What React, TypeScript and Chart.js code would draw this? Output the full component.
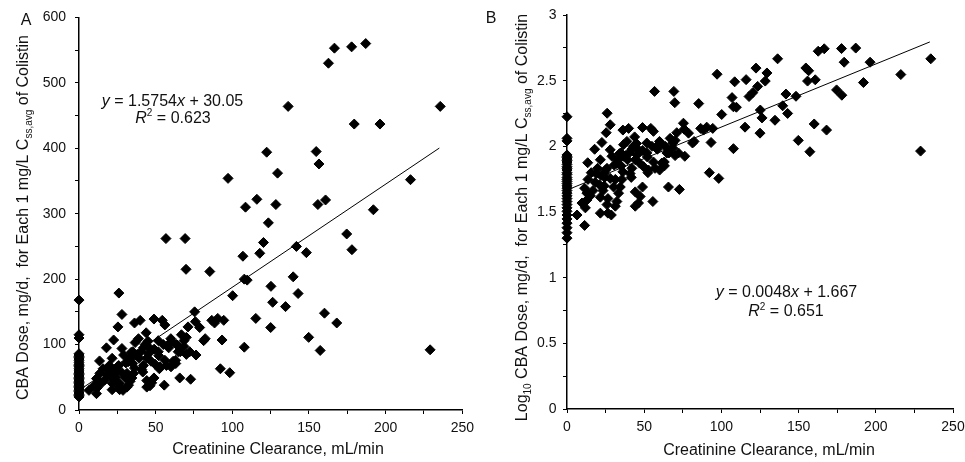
import { useEffect, useRef } from 'react';
import { Chart, registerables } from 'chart.js';

Chart.register(...registerables);

// ---- data ----
// creatinine clearance (mL/min) and CBA dose (mg/d) for each 1 mg/L Css,avg
const clearance = [
  0, 0, 0, 0, 0, 0, 0, 0, 0, 0, 0, 0, 0, 0, 0, 0, 0, 0, 0, 0, 0, 0, 0, 0, 0, 0, 0, 0, 0, 0, 0, 0, 0, 0, 0,
  6.5, 11.4, 13.4, 11.4, 12.9, 9.7, 11.9, 12.9, 15.1, 16.8, 18.3, 17.9, 19.8, 18.8, 21.6, 22.6, 25.4, 28,
  21.6, 21.6, 24.1, 24.1, 25.9, 25.9, 26.5, 28, 29.1, 30.2, 31.3, 30.6, 32.3, 31.3, 32.3, 33.4, 34.5, 35.6,
  36.2, 36.6, 36.2, 39.9, 36.6, 38.8, 39.2, 40.3, 40.9, 42, 43.1, 43.8, 44.2, 45.3, 46.3, 44.2, 44.2, 46.3,
  47.4, 48.9, 48.9, 47, 49.6, 51.7, 51.7, 52.8, 54.3, 56, 55.6, 55, 58.2, 59.9, 61.4, 63.1, 63.6, 64.7,
  65.7, 66.8, 68.5, 71.1, 72.2, 72.8, 75.4, 75.9, 76.3, 78.7, 81.3, 82.3, 86.6, 88.4, 90.5, 92.2, 93.3,
  94.4, 98.3, 107.8, 115.3, 125, 149.8, 157.3, 160.1, 168.1, 229,
  34, 35, 41.6, 28.7, 21, 24.4, 15.7, 13.6, 23.3, 26.5, 52, 56, 63, 60, 52.4, 68.5, 70,
  22, 25, 28, 33, 35, 38, 42, 45, 49, 57, 58.5, 60.5, 66, 70,
  187, 177.8, 166.6, 162.7, 136.4, 235.6, 179.5, 196.3, 122.4, 154.7, 156.5, 129.5, 97.2, 216.2, 116,
  160.8, 108.6, 128.4, 155.8, 192, 123.5, 56.7, 69.2, 120.3, 174.6, 141.8, 106.9, 117.9, 148.3, 178,
  69.8, 85.3, 107.8, 109.7, 139.7, 125.2, 142.9, 100.2, 26, 126.3, 134.7,
];
const dose = [
  168, 115, 110, 86, 84, 82, 80, 78, 76, 73, 70, 68, 66, 63, 61, 58, 56, 54, 52, 50, 48, 46, 44, 42, 40,
  38, 36, 34, 32, 30, 28, 26, 24, 22, 20,
  30, 25, 75, 48, 44, 37, 34, 39, 42, 46, 53, 95, 68, 62, 79, 107, 127, 146,
  41, 31, 50, 62, 68, 36, 31, 94, 84, 49, 56, 72, 74, 35, 38, 44, 49, 56,
  64, 84, 133, 137, 103, 109, 79, 89, 62, 68, 100, 118, 79, 86, 94, 45, 35, 37,
  41.5, 49, 139, 74.5, 70, 89, 106, 66, 137, 130, 38, 100, 100, 109, 74.5, 71, 100, 89,
  49, 115, 97, 127, 89, 47, 150, 135, 84, 126, 106, 109, 137, 133, 140, 63, 107,
  137, 57, 96, 140, 126, 111, 91, 148, 133, 92,
  88, 71, 58, 30, 51, 58, 63, 56, 46, 40, 83, 76, 76, 66, 63, 106, 111,
  60, 66, 57, 79, 89, 85, 95, 105, 93, 68, 95, 105, 89, 85,
  560, 555, 553, 530, 464, 464, 437, 437, 394, 395, 376, 362, 354, 352, 322,
  321, 310, 314, 314, 306, 286, 262, 262, 256, 269, 250, 235, 239.5, 240.5, 245,
  215, 211.6, 200, 198.5, 203.5, 189, 178, 174.7, 178.7, 164.6, 158,
];
// panel B plots log10 of the same doses
const logDose = dose.map((v) => Math.log10(v));

const trendX = [0, 235];
const trendA = [30.05, 400.3];
const trendB = [1.667, 2.795];

const xTicksMajor = 50;
const xTicksMinor = 25;

// ---- text helpers ----
const FAMILY = '"Liberation Sans", Arial, Helvetica, sans-serif';
const TEXT = '#111';
type Seg = { t: string; s?: 'i' | 'sub' | 'sup' };
type Rich = { segs: Seg[]; x: number; y: number; rot?: boolean; size?: number };

function fontFor(seg: Seg, size: number) {
  const small = seg.s === 'sub' || seg.s === 'sup';
  return `${seg.s === 'i' ? 'italic ' : ''}${small ? Math.round(size * 0.65) : size}px ${FAMILY}`;
}

function drawRich(ctx: CanvasRenderingContext2D, item: Rich) {
  const size = item.size ?? 16;
  ctx.save();
  ctx.fillStyle = TEXT;
  ctx.textBaseline = 'alphabetic';
  ctx.textAlign = 'left';
  let total = 0;
  for (const seg of item.segs) {
    ctx.font = fontFor(seg, size);
    total += ctx.measureText(seg.t).width;
  }
  ctx.translate(item.x, item.y);
  if (item.rot) ctx.rotate(-Math.PI / 2);
  let cx = -total / 2;
  for (const seg of item.segs) {
    ctx.font = fontFor(seg, size);
    const dy = seg.s === 'sub' ? size * 0.28 : seg.s === 'sup' ? -size * 0.4 : 0;
    ctx.fillText(seg.t, cx, dy);
    cx += ctx.measureText(seg.t).width;
  }
  ctx.restore();
}

const titleCore: Seg[] = [
  { t: 'CBA Dose, mg/d,  for Each 1 mg/L C' },
  { t: 'ss,avg', s: 'sub' },
  { t: ' of Colistin' },
];
const xTitle: Seg[] = [{ t: 'Creatinine Clearance, mL/min' }];

const textsA: Rich[] = [
  { segs: titleCore, x: 27.5, y: 217.5, rot: true },
  { segs: [{ t: 'A' }], x: 26, y: 25 },
  { segs: [{ t: 'y', s: 'i' }, { t: ' = 1.5754' }, { t: 'x', s: 'i' }, { t: ' + 30.05' }], x: 172.5, y: 106 },
  { segs: [{ t: 'R', s: 'i' }, { t: '2', s: 'sup' }, { t: ' = 0.623' }], x: 173, y: 122.5 },
  { segs: xTitle, x: 278, y: 454 },
];
const textsB: Rich[] = [
  { segs: [{ t: 'Log' }, { t: '10', s: 'sub' }, { t: ' ' }, ...titleCore], x: 47, y: 217.5, rot: true },
  { segs: [{ t: 'B' }], x: 11, y: 23 },
  { segs: [{ t: 'y', s: 'i' }, { t: ' = 0.0048' }, { t: 'x', s: 'i' }, { t: ' + 1.667' }], x: 306.5, y: 297 },
  { segs: [{ t: 'R', s: 'i' }, { t: '2', s: 'sup' }, { t: ' = 0.651' }], x: 306, y: 316 },
  { segs: xTitle, x: 289, y: 455 },
];

type PanelCfg = {
  ys: number[];
  trend: number[];
  yMax: number;
  yStep: number;
  yLabel: (v: number) => string;
  yWidth: number;
  yPad: number;
  xHeight: number;
  padRight: number;
  texts: Rich[];
};

function makeChart(canvas: HTMLCanvasElement, cfg: PanelCfg) {
  const pts = clearance.map((x, i) => ({ x, y: cfg.ys[i] }));
  const line = trendX.map((x, i) => ({ x, y: cfg.trend[i] }));
  const axisCommon = {
    border: { display: true, color: '#000', width: 1.5 },
    grid: { display: true, drawOnChartArea: false, drawTicks: true, tickLength: 4, color: '#000', tickColor: '#000', tickWidth: 1 },
  };
  return new Chart(canvas, {
    type: 'scatter',
    data: {
      datasets: [
        {
          data: line,
          showLine: true,
          borderColor: '#000',
          borderWidth: 1,
          pointRadius: 0,
          fill: false,
        },
        {
          data: pts,
          pointStyle: 'rectRot',
          pointRadius: 5,
          backgroundColor: '#000',
          borderColor: '#000',
          borderWidth: 1,
          clip: false,
        } as any,
      ],
    },
    options: {
      animation: false,
      responsive: false,
      devicePixelRatio: 1,
      events: [],
      layout: { padding: { left: 0, top: 15, right: cfg.padRight, bottom: 0 } },
      plugins: { legend: { display: false }, tooltip: { enabled: false }, title: { display: false } },
      scales: {
        x: {
          type: 'linear',
          min: 0,
          max: 250,
          ...axisCommon,
          ticks: {
            stepSize: xTicksMinor,
            autoSkip: false,
            maxRotation: 0,
            padding: 6,
            color: TEXT,
            font: { family: FAMILY, size: 14 },
            callback: (v: any) => (Number(v) % xTicksMajor === 0 ? String(v) : ''),
          },
          afterFit: (s: any) => {
            s.height = cfg.xHeight;
          },
        },
        y: {
          type: 'linear',
          min: 0,
          max: cfg.yMax,
          ...axisCommon,
          ticks: {
            stepSize: cfg.yStep,
            autoSkip: false,
            padding: cfg.yPad,
            color: TEXT,
            font: { family: FAMILY, size: 14 },
            callback: (v: any) => cfg.yLabel(Number(v)),
          },
          afterFit: (s: any) => {
            s.width = cfg.yWidth;
          },
        },
      },
    },
    plugins: [
      {
        id: 'richTexts',
        afterDraw(chart: any) {
          const ctx = chart.ctx as CanvasRenderingContext2D;
          for (const t of cfg.texts) drawRich(ctx, t);
        },
      },
    ],
  } as any);
}

export default function App() {
  const refA = useRef<HTMLCanvasElement>(null);
  const refB = useRef<HTMLCanvasElement>(null);

  useEffect(() => {
    if (!refA.current || !refB.current) return;
    const a = makeChart(refA.current, {
      ys: dose,
      trend: trendA,
      yMax: 600,
      yStep: 50,
      yLabel: (v) => (Math.round(v) % 100 === 0 ? String(Math.round(v)) : ''),
      yWidth: 79,
      yPad: 9,
      xHeight: 52,
      padRight: 14,
      texts: textsA,
    });
    const b = makeChart(refB.current, {
      ys: logDose,
      trend: trendB,
      yMax: 3,
      yStep: 0.25,
      yLabel: (v) => (Math.abs(v * 2 - Math.round(v * 2)) < 1e-6 ? String(Math.round(v * 2) / 2) : ''),
      yWidth: 87,
      yPad: 6.5,
      xHeight: 53,
      padRight: 27,
      texts: textsB,
    });
    return () => {
      a.destroy();
      b.destroy();
    };
  }, []);

  return (
    <div
      style={{
        position: 'absolute',
        left: 0,
        top: 0,
        width: 965,
        height: 462,
        overflow: 'hidden',
        background: '#fff',
      }}
    >
      <canvas ref={refA} width={480} height={462} style={{ position: 'absolute', left: 0, top: 0, width: 480, height: 462 }} />
      <canvas ref={refB} width={500} height={462} style={{ position: 'absolute', left: 480, top: 0, width: 500, height: 462 }} />
    </div>
  );
}
